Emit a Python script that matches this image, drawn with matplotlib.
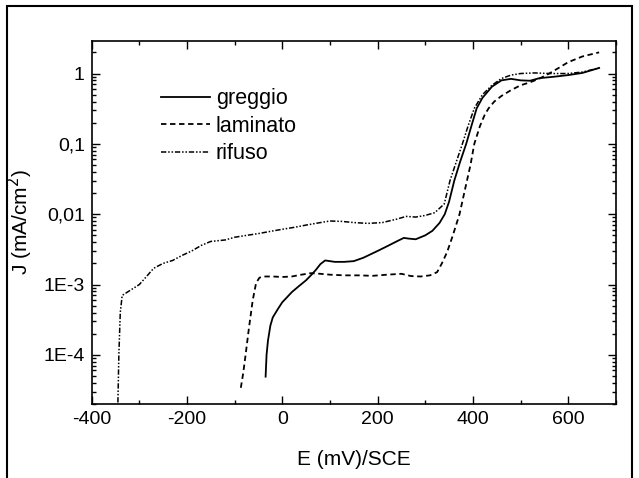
import numpy as np
import matplotlib.pyplot as plt
from matplotlib.patches import Rectangle
from matplotlib.ticker import LogLocator, FixedLocator, NullFormatter, MultipleLocator

plt.rcParams['font.family'] = ['Liberation Sans', 'DejaVu Sans']
plt.rcParams['axes.unicode_minus'] = False

# greggio (solid)
E_greggio = [-35, -33, -30, -25, -20, -10, 0, 10, 20, 35, 50, 60, 70, 80, 90, 110, 130, 150,
             170, 200, 220, 240, 255, 265, 280, 300, 315, 330, 341, 350, 361, 373, 386, 398,
             408, 420, 440, 460, 480, 500, 520, 540, 570, 600, 630, 665]
J_greggio = [4.9e-5, 1e-4, 1.6e-4, 2.6e-4, 3.4e-4, 4.4e-4, 5.6e-4, 6.6e-4, 7.8e-4, 9.5e-4,
             1.15e-3, 1.35e-3, 1.6e-3, 1.95e-3, 2.2e-3, 2.1e-3, 2.1e-3, 2.15e-3, 2.4e-3, 3.0e-3,
             3.5e-3, 4.1e-3, 4.6e-3, 4.5e-3, 4.4e-3, 5.0e-3, 5.8e-3, 7.5e-3, 1.0e-2, 1.5e-2,
             3.0e-2, 5.5e-2, 0.1, 0.19, 0.32, 0.45, 0.65, 0.8, 0.84, 0.8, 0.79, 0.86, 0.9, 0.95,
             1.02, 1.2]

# laminato (dashed)
E_laminato = [-87, -82, -77, -70, -62, -55, -48, -40, -20, 0, 20, 40, 60, 80, 100, 130, 160,
              190, 220, 250, 270, 290, 310, 325, 335, 346, 358, 372, 385, 395, 403, 415, 425,
              433, 445, 460, 480, 500, 520, 540, 560, 580, 600, 630, 665]
J_laminato = [3.4e-5, 5.5e-5, 1e-4, 2.4e-4, 6e-4, 1.05e-3, 1.25e-3, 1.3e-3, 1.3e-3, 1.28e-3,
              1.3e-3, 1.38e-3, 1.45e-3, 1.42e-3, 1.38e-3, 1.35e-3, 1.35e-3, 1.33e-3, 1.38e-3,
              1.42e-3, 1.32e-3, 1.3e-3, 1.35e-3, 1.5e-3, 2.0e-3, 2.9e-3, 5e-3, 1e-2, 2.5e-2,
              5e-2, 0.1, 0.18, 0.26, 0.32, 0.4, 0.48, 0.58, 0.68, 0.75, 0.85, 1.0, 1.2, 1.45,
              1.75, 2.0]

# rifuso (dash-dot-dot)
E_rifuso = [-345, -343, -340, -336, -320, -300, -285, -270, -250, -230, -210, -190, -170, -150,
            -120, -100, -75, -50, -25, 0, 25, 50, 75, 100, 125, 150, 180, 210, 240, 260, 280,
            300, 320, 340, 352, 365, 378, 390, 403, 420, 440, 460, 480, 500, 530, 560, 600,
            630, 665]
J_rifuso = [2.1e-5, 1e-4, 4e-4, 7e-4, 8.2e-4, 1.0e-3, 1.3e-3, 1.7e-3, 2.0e-3, 2.2e-3, 2.6e-3,
            3.0e-3, 3.6e-3, 4.1e-3, 4.3e-3, 4.7e-3, 5.0e-3, 5.3e-3, 5.7e-3, 6.1e-3, 6.5e-3,
            7.0e-3, 7.5e-3, 8.0e-3, 7.9e-3, 7.6e-3, 7.4e-3, 7.6e-3, 8.5e-3, 9.3e-3, 9.1e-3,
            9.6e-3, 1.05e-2, 1.4e-2, 3.0e-2, 5.5e-2, 0.1, 0.18, 0.32, 0.5, 0.68, 0.85, 0.95,
            1.0, 1.02, 1.0, 1.0, 1.05, 1.2]

y_ticks = [1e-4, 1e-3, 1e-2, 1e-1, 1]
y_labels = ['1E-4', '1E-3', '0,01', '0,1', '1']

fig = plt.figure(figsize=(6.39, 4.78), dpi=100)
ax = fig.add_axes([0.1435, 0.1548, 0.8202, 0.7594])

ax.plot(E_greggio, J_greggio, color='black', lw=1.3, label='greggio')
ax.plot(E_laminato, J_laminato, color='black', lw=1.3, linestyle=(0, (3, 2)), label='laminato')
ax.plot(E_rifuso, J_rifuso, color='black', lw=1.1,
        linestyle=(0, (3.5, 1.2, 1, 1.2, 1, 1.2)), label='rifuso')

ax.set_yscale('log')
ax.set_xlim(-400, 700)
ax.set_ylim(2e-5, 2.9)
ax.xaxis.set_major_locator(FixedLocator([-400, -200, 0, 200, 400, 600]))
ax.xaxis.set_minor_locator(MultipleLocator(100))
ax.yaxis.set_major_locator(FixedLocator(y_ticks))
ax.set_yticklabels(y_labels)
ax.yaxis.set_minor_locator(LogLocator(base=10, subs=np.arange(2, 10)))
ax.yaxis.set_minor_formatter(NullFormatter())

ax.tick_params(which='both', direction='in', top=True, right=True, labelsize=14, width=1)
ax.tick_params(which='major', length=6, pad=5)
ax.tick_params(which='minor', length=3)
for s in ax.spines.values():
    s.set_linewidth(1.2)

ax.set_xlabel('E (mV)/SCE', fontsize=15, labelpad=16)
ax.set_ylabel(r'J (mA/cm$^2$)', fontsize=15)
ax.yaxis.set_label_coords(-0.108, 0.5)

ax.legend(loc='upper left', bbox_to_anchor=(0.132, 0.87), frameon=False, fontsize=15.5,
          handlelength=2.3, handletextpad=0.25, labelspacing=0.3, borderpad=0, borderaxespad=0)

# scanned frame around the figure
fig.patches.append(Rectangle((7 / 639, -0.05), 625 / 639, 1.05 - 6 / 478, transform=fig.transFigure,
                             fill=False, edgecolor='black', lw=1.5))

fig.savefig('out.png', dpi=100)
